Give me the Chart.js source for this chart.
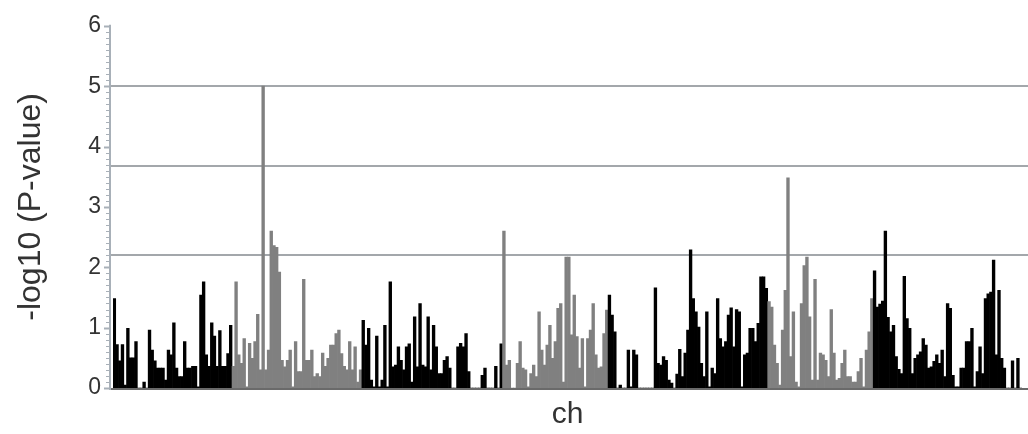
<!DOCTYPE html>
<html>
<head>
<meta charset="utf-8">
<script src="https://cdn.jsdelivr.net/npm/chart.js@4.4.0/dist/chart.umd.min.js"></script>
<style>
html,body{margin:0;padding:0;background:#fff;}
#wrap{width:1028px;height:434px;position:relative;}
</style>
</head>
<body>
<div id="wrap"><canvas id="c"></canvas></div>
<script>
// -log10(P) per marker, read left to right
const values = [
  1.48,0.72,0.45,0.72,0.05,0.99,0.5,0.5,0.77,0,0,0.1,0,0.96,0.63,0.45,0.33,0.33,0.33,0.13,
  0.63,0.55,1.08,0.33,0.19,0.19,0.77,0.33,0.33,0.36,0.36,0.02,1.54,1.76,0.55,0.36,1.08,0.86,0.36,0.95,
  0.36,0.36,0.57,1.04,
  0.36,1.76,0.55,0.41,0.82,0.02,0.74,0.49,0.77,1.22,0.3,5.0,0.3,0.63,2.6,2.36,2.33,1.92,0.46,0.35,
  0.46,0.63,0.02,0.77,0.27,0.27,1.8,0.46,0.46,0.63,0.19,0.24,0.19,0.58,0.36,0.49,0.71,0.71,0.9,0.96,
  0.57,0.36,0.3,0.77,0.3,0.68,0.1,0.3,
  1.12,0.71,0.99,0.13,0.02,0.86,0.02,0.13,1.04,0.02,1.76,0.35,0.38,0.68,0.46,0.3,0.68,0.73,0.1,1.18,
  0.35,1.4,0.38,0.35,1.18,0.3,1.04,0.68,0.24,0.24,0.46,0.52,0.33,0,0,0.68,0.74,0.68,0.9,0.27,
  0,0,0,0,0.21,0.33,0,0,0,0.36,0,0.73,
  2.6,0.38,0.46,0,0,0.41,0.77,0.33,0.3,0.02,0.24,0.38,0.19,1.26,0.63,0.38,0.71,1.04,0.49,0.77,
  1.32,1.4,0.1,2.17,2.17,0.88,1.54,0.85,0.33,0.82,0.02,0.82,0.96,1.4,0.55,0.33,0.35,0.9,1.29,
  1.54,1.21,0.93,0,0.05,0,0,0.63,0.02,0.63,0.55,0,0,0,0,0,0,1.66,0.41,0.38,
  0.52,0.46,0.13,0.08,0,0.23,0.64,0.19,0.58,0.96,2.29,1.48,1.26,1.01,0.41,0.19,1.26,0.02,0.33,0.24,
  1.48,0.82,0.68,0.77,1.21,1.33,0.68,1.3,1.26,0.02,0.55,0.58,0.99,0.99,0.77,1.07,1.84,1.84,1.65,
  1.43,1.34,0.71,0.41,0.05,0.96,1.62,3.48,0.52,1.26,0.1,0.02,1.4,2.03,2.17,1.18,0.13,1.8,0.13,0.58,
  0.55,0.46,0.19,1.3,0.58,0.13,0.16,0.41,0.63,0.19,0.19,0.1,0.1,0.27,0.49,0.02,0.63,0.93,1.48,
  1.94,1.34,1.39,1.44,2.6,1.17,0.93,1.04,0.52,0.31,0.24,1.85,1.15,0.99,0.24,0.49,0.55,0.6,0.82,0.71,
  0.33,0.35,0.44,0.55,0.41,0.63,0.19,1.4,1.32,0.21,0.02,0.02,0.33,0.33,0.77,0.77,0.99,0.02,0.27,0.68,
  0.24,1.48,1.56,1.59,2.12,0.55,1.62,0.49,0.33,0,0,0.45,0,0.49,0
];
// number of markers in each consecutive chromosome block
const segmentSizes = [44, 48, 52, 39, 59, 39, 55];
// significance threshold lines
const thresholds = [5, 3.68, 2.2];
const yTicks = [0, 1, 2, 3, 4, 5, 6];
const categories = values.map((v, i) => String(i + 1));

const blockColors = ['#000000', '#808080'];
const barColors = [];
segmentSizes.forEach((n, s) => { for (let k = 0; k < n; k++) barColors.push(blockColors[s % 2]); });

const FONT = "'Liberation Sans', Arial, Helvetica, sans-serif";
const AXIS_GAP = 3;

const decor = {
  id: 'decor',
  beforeDatasetsDraw(chart) {
    const {ctx, chartArea, scales: {y}} = chart;
    ctx.save();
    ctx.strokeStyle = '#a3a7ab';
    ctx.lineWidth = 2;
    thresholds.forEach(t => {
      const py = Math.round(y.getPixelForValue(t));
      ctx.beginPath();
      ctx.moveTo(chartArea.left - AXIS_GAP, py);
      ctx.lineTo(chart.width, py);
      ctx.stroke();
    });
    ctx.restore();
  },
  afterDatasetsDraw(chart) {
    const {ctx, chartArea, scales: {y}} = chart;
    const ax = chartArea.left - AXIS_GAP;
    ctx.save();
    // baseline
    ctx.strokeStyle = '#6a6a6a';
    ctx.lineWidth = 2;
    const by = y.getPixelForValue(0) + 1;
    ctx.beginPath();
    ctx.moveTo(ax, by);
    ctx.lineTo(chart.width, by);
    ctx.stroke();
    // y axis line
    ctx.strokeStyle = '#a8b0b8';
    ctx.lineWidth = 2;
    ctx.beginPath();
    ctx.moveTo(ax, y.getPixelForValue(6) - 1);
    ctx.lineTo(ax, by + 1);
    ctx.stroke();
    // ticks: minor every 0.1, major on labelled values
    ctx.lineWidth = 1;
    for (let i = 0; i <= 60; i++) {
      const py = Math.round(y.getPixelForValue(i / 10)) + 0.5;
      const major = i % 10 === 0;
      ctx.lineWidth = major ? 2 : 1;
      ctx.beginPath();
      ctx.moveTo(ax - (major ? 6 : 4), py);
      ctx.lineTo(ax, py);
      ctx.stroke();
    }
    ctx.restore();
  }
};

new Chart(document.getElementById('c'), {
  type: 'bar',
  data: {
    labels: categories,
    datasets: [{
      data: values,
      backgroundColor: barColors,
      borderWidth: 0,
      barPercentage: 1,
      categoryPercentage: 1
    }]
  },
  options: {
    responsive: true,
    maintainAspectRatio: false,
    animation: false,
    layout: {padding: {top: 25, right: 6, left: 0, bottom: 0}},
    plugins: {legend: {display: false}, tooltip: {enabled: false}},
    scales: {
      x: {
        type: 'category',
        offset: true,
        grid: {display: false, drawTicks: false},
        border: {display: false},
        ticks: {display: false},
        title: {display: true, text: 'ch', color: '#333', font: {family: FONT, size: 30, lineHeight: 1}, padding: {top: 0, bottom: 4}},
        afterFit(scale) { scale.height = 46; }
      },
      y: {
        min: 0, max: 6,
        afterBuildTicks(scale) { scale.ticks = yTicks.map(v => ({value: v})); },
        ticks: {color: '#333', font: {family: FONT, size: 23}, padding: 12},
        grid: {display: false, drawTicks: false},
        border: {display: false},
        title: {display: true, text: '-log10 (P-value)', color: '#333', font: {family: FONT, size: 32, lineHeight: 1}, padding: {top: 15, bottom: 0}},
        afterFit(scale) { scale.width = 113; }
      }
    }
  },
  plugins: [decor]
});
</script>
</body>
</html>
